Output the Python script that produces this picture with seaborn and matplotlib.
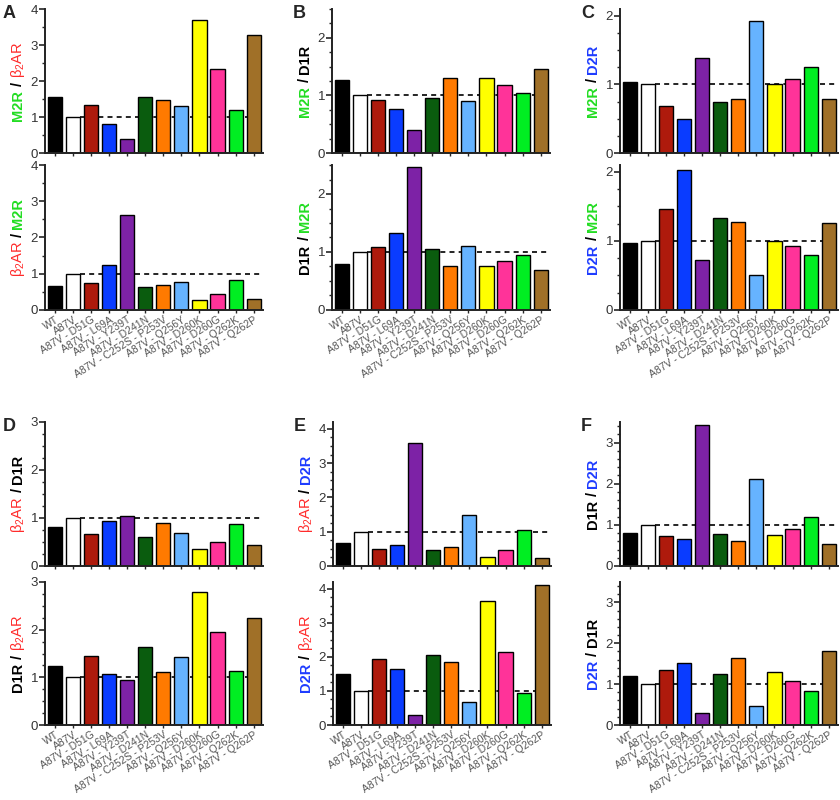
import matplotlib
matplotlib.use('Agg')
import matplotlib.pyplot as plt
import seaborn as sns
from matplotlib.ticker import MultipleLocator
from matplotlib.transforms import IdentityTransform

# === Data ===
mutants = ['WT', 'A87V', 'A87V - D51G', 'A87V - L69A', 'A87V - Y239T',
           'A87V - D241N', 'A87V - C252S - P253V', 'A87V - Q256Y',
           'A87V - D260K', 'A87V - D260G', 'A87V - Q262K', 'A87V - Q262P']

bar_colors = ['#000000', '#FFFFFF', '#AE1A0C', '#0A3CFF', '#7D22A6', '#0A5C0E',
              '#FF7A00', '#66B3FF', '#FFFF00', '#FF3399', '#00EE22', '#A07028']

# ratio values per panel (top, bottom)
a_m2r_b2ar = [1.55, 1.00, 1.34, 0.81, 0.40, 1.56, 1.46, 1.30, 3.69, 2.33, 1.20, 3.29]
a_b2ar_m2r = [0.65, 1.00, 0.74, 1.24, 2.62, 0.64, 0.69, 0.77, 0.27, 0.43, 0.83, 0.31]
b_m2r_d1r = [1.26, 1.00, 0.92, 0.76, 0.40, 0.95, 1.31, 0.91, 1.31, 1.18, 1.05, 1.45]
b_d1r_m2r = [0.80, 1.00, 1.09, 1.33, 2.47, 1.06, 0.76, 1.10, 0.76, 0.84, 0.95, 0.69]
c_m2r_d2r = [1.03, 1.00, 0.68, 0.50, 1.38, 0.75, 0.79, 1.93, 1.00, 1.08, 1.26, 0.79]
c_d2r_m2r = [0.97, 1.00, 1.47, 2.03, 0.72, 1.33, 1.28, 0.51, 1.00, 0.92, 0.79, 1.26]
d_b2ar_d1r = [0.81, 1.00, 0.67, 0.93, 1.05, 0.60, 0.90, 0.69, 0.35, 0.50, 0.87, 0.44]
d_d1r_b2ar = [1.23, 1.00, 1.45, 1.07, 0.95, 1.64, 1.11, 1.42, 2.78, 1.96, 1.13, 2.25]
e_b2ar_d2r = [0.67, 1.00, 0.51, 0.60, 3.60, 0.48, 0.54, 1.50, 0.27, 0.46, 1.05, 0.24]
e_d2r_b2ar = [1.49, 1.00, 1.95, 1.64, 0.28, 2.07, 1.84, 0.67, 3.65, 2.14, 0.95, 4.12]
f_d1r_d2r = [0.81, 1.00, 0.73, 0.65, 3.43, 0.78, 0.60, 2.12, 0.76, 0.91, 1.19, 0.54]
f_d2r_d1r = [1.20, 1.00, 1.34, 1.51, 0.29, 1.24, 1.65, 0.46, 1.30, 1.08, 0.83, 1.81]

# === Style ===
sns.set_style('ticks')
plt.rcParams['font.family'] = ['Liberation Sans', 'DejaVu Sans']
plt.rcParams['mathtext.fontset'] = 'custom'
plt.rcParams['mathtext.rm'] = 'Liberation Sans'
plt.rcParams['mathtext.default'] = 'regular'

GREEN, RED, BLUE = '#22DD22', '#FF2A2A', '#1E3CFF'
receptor = {
    'M2R': ('M2R', GREEN, 'bold'),
    'b2AR': ('β$_2$AR', RED, 'normal'),
    'D1R': ('D1R', 'black', 'bold'),
    'D2R': ('D2R', BLUE, 'bold'),
}

W, H = 840, 800
fig = plt.figure(figsize=(8.4, 8.0), dpi=100)

# panel: letter, left px, row, (top data, num, den, ymax, minor), (bottom ...)
panels = [
    ('A', 45, 0, (a_m2r_b2ar, 'M2R', 'b2AR', 4.0, 0.5), (a_b2ar_m2r, 'b2AR', 'M2R', 4.0, 0.5)),
    ('B', 332, 0, (b_m2r_d1r, 'M2R', 'D1R', 2.5, 0.25), (b_d1r_m2r, 'D1R', 'M2R', 2.5, 0.25)),
    ('C', 620, 0, (c_m2r_d2r, 'M2R', 'D2R', 2.1, 0.25), (c_d2r_m2r, 'D2R', 'M2R', 2.1, 0.25)),
    ('D', 45, 1, (d_b2ar_d1r, 'b2AR', 'D1R', 3.0, 0.25), (d_d1r_b2ar, 'D1R', 'b2AR', 3.0, 0.25)),
    ('E', 333, 1, (e_b2ar_d2r, 'b2AR', 'D2R', 4.2, 0.25), (e_d2r_b2ar, 'D2R', 'b2AR', 4.2, 0.25)),
    ('F', 620, 1, (f_d1r_d2r, 'D1R', 'D2R', 3.5, 0.2), (f_d2r_d1r, 'D2R', 'D1R', 3.5, 0.2)),
]
row_boxes = [((9, 153), (165, 310)), ((422, 566), (582, 725))]
ax_width = 218

renderer = fig.canvas.get_renderer()


def color_ylabel(ax, num, den, size=10.5):
    bbox = ax.get_window_extent(renderer)
    parts = [receptor[num], ('/', 'black', 'bold'), receptor[den]]
    gap = 0.28 * size * fig.dpi / 72
    texts = []
    for s, c, w in parts:
        t = fig.text(0, 0, s, color=c, fontweight=w, fontsize=size, rotation=90,
                     rotation_mode='anchor', ha='left', va='baseline',
                     transform=IdentityTransform())
        texts.append(t)
    lengths = [t.get_window_extent(renderer).height for t in texts]
    total = sum(lengths) + 2 * gap
    y = (bbox.y0 + bbox.y1) / 2 - total / 2
    x = bbox.x0 - 23
    for t, L in zip(texts, lengths):
        t.set_position((x, y))
        y += L + gap


for letter, left, row, top, bottom in panels:
    for k, (vals, num, den, ymax, minor) in enumerate((top, bottom)):
        y0, y1 = row_boxes[row][k]
        ax = fig.add_axes([left / W, 1 - y1 / H, ax_width / W, (y1 - y0) / H])
        sns.barplot(x=mutants, y=vals, hue=mutants, palette=bar_colors, legend=False,
                    saturation=1, edgecolor='black', linewidth=1, width=0.78, ax=ax)
        ax.set_xlim(-0.56, 11.52)
        ax.set_ylim(0, ymax)
        ax.plot([1.39, 11.52], [1, 1], color='black', ls=(0, (3, 2.5)), lw=1.2, zorder=0.5)
        ax.yaxis.set_major_locator(MultipleLocator(1))
        ax.yaxis.set_minor_locator(MultipleLocator(minor))
        ax.tick_params(axis='y', which='major', length=4, width=1.2, labelsize=9.5,
                       labelcolor='#333333', pad=1)
        ax.tick_params(axis='y', which='minor', length=2, width=1)
        ax.tick_params(axis='x', length=2.5, width=1, pad=1)
        for side in ('left', 'bottom'):
            ax.spines[side].set_linewidth(1.4)
            ax.spines[side].set_color('#222222')
        sns.despine(ax=ax)
        ax.set_xlabel('')
        ax.set_ylabel('')
        ax.set_xticks(range(len(mutants)))
        if k == 1:
            ax.set_xticklabels(mutants, rotation=32, ha='right', rotation_mode='anchor',
                               fontsize=7.5, color='#555555')
        else:
            ax.set_xticklabels([])
        color_ylabel(ax, num, den)
    ly = row_boxes[row][0][0] - 4
    fig.text((left - 42) / W if left < 100 else (left - 39) / W, 1 - ly / H, letter,
             fontsize=13, fontweight='bold', va='top', ha='left')

fig.savefig('out.png', dpi=100)
plt.close(fig)
